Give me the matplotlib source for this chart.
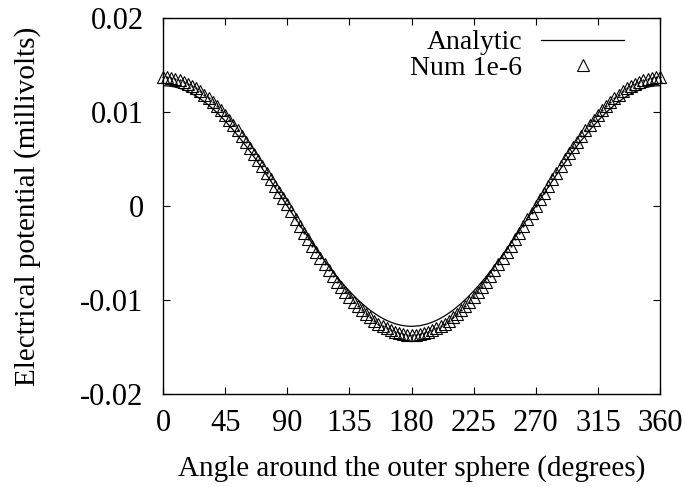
import matplotlib
matplotlib.use('Agg')
import matplotlib.pyplot as plt

plt.rcParams['font.family'] = ['Liberation Serif', 'DejaVu Serif']
plt.rcParams['mathtext.fontset'] = 'stix'

# angles in degrees, step 3
angle = list(range(0, 361, 3))

# analytic potential (millivolts)
analytic = [
    0.01280, 0.01278, 0.01273, 0.01264, 0.01252, 0.01236, 0.01217, 0.01195, 0.01169, 0.01140,
    0.01109, 0.01073, 0.01036, 0.00995, 0.00951, 0.00905, 0.00856, 0.00806, 0.00752, 0.00697,
    0.00640, 0.00581, 0.00521, 0.00459, 0.00396, 0.00331, 0.00266, 0.00200, 0.00134, 0.00067,
    0.00000,
    -0.00067, -0.00134, -0.00200, -0.00266, -0.00331, -0.00396, -0.00459, -0.00521, -0.00581, -0.00640,
    -0.00697, -0.00752, -0.00806, -0.00856, -0.00905, -0.00951, -0.00995, -0.01036, -0.01073, -0.01109,
    -0.01140, -0.01169, -0.01195, -0.01217, -0.01236, -0.01252, -0.01264, -0.01273, -0.01278, -0.01280,
    -0.01278, -0.01273, -0.01264, -0.01252, -0.01236, -0.01217, -0.01195, -0.01169, -0.01140, -0.01109,
    -0.01073, -0.01036, -0.00995, -0.00951, -0.00905, -0.00856, -0.00806, -0.00752, -0.00697, -0.00640,
    -0.00581, -0.00521, -0.00459, -0.00396, -0.00331, -0.00266, -0.00200, -0.00134, -0.00067, 0.00000,
    0.00067, 0.00134, 0.00200, 0.00266, 0.00331, 0.00396, 0.00459, 0.00521, 0.00581, 0.00640,
    0.00697, 0.00752, 0.00806, 0.00856, 0.00905, 0.00951, 0.00995, 0.01036, 0.01073, 0.01109,
    0.01140, 0.01169, 0.01195, 0.01217, 0.01236, 0.01252, 0.01264, 0.01273, 0.01278, 0.01280,
]

# numerical solution, tolerance 1e-6 (millivolts)
num_1e6 = [
    0.01370, 0.01368, 0.01362, 0.01353, 0.01340, 0.01323, 0.01303, 0.01279, 0.01252, 0.01221,
    0.01186, 0.01149, 0.01108, 0.01065, 0.01018, 0.00969, 0.00917, 0.00862, 0.00805, 0.00746,
    0.00685, 0.00622, 0.00557, 0.00491, 0.00423, 0.00355, 0.00285, 0.00214, 0.00150, 0.00085,
    0.00025,
    -0.00050, -0.00135, -0.00210, -0.00285, -0.00355, -0.00423, -0.00491, -0.00557, -0.00622, -0.00685,
    -0.00746, -0.00805, -0.00862, -0.00917, -0.00969, -0.01018, -0.01065, -0.01108, -0.01149, -0.01186,
    -0.01221, -0.01252, -0.01279, -0.01303, -0.01323, -0.01340, -0.01353, -0.01362, -0.01368, -0.01370,
    -0.01368, -0.01362, -0.01353, -0.01340, -0.01323, -0.01303, -0.01279, -0.01252, -0.01221, -0.01186,
    -0.01149, -0.01108, -0.01065, -0.01018, -0.00969, -0.00917, -0.00862, -0.00805, -0.00746, -0.00685,
    -0.00622, -0.00557, -0.00491, -0.00423, -0.00355, -0.00285, -0.00214, -0.00143, -0.00072, 0.00000,
    0.00072, 0.00143, 0.00214, 0.00285, 0.00355, 0.00430, 0.00498, 0.00562, 0.00625, 0.00685,
    0.00746, 0.00805, 0.00862, 0.00917, 0.00969, 0.01018, 0.01065, 0.01108, 0.01149, 0.01186,
    0.01221, 0.01252, 0.01279, 0.01303, 0.01323, 0.01340, 0.01353, 0.01362, 0.01368, 0.01370,
]

xticks = [0, 45, 90, 135, 180, 225, 270, 315, 360]
yticks = [-0.02, -0.01, 0, 0.01, 0.02]
ytick_labels = ['-0.02', '-0.01', '0', '0.01', '0.02']

fig = plt.figure(figsize=(6.85, 4.87), dpi=100)
ax = fig.add_axes([0.238, 0.191, 0.7255, 0.772])

ax.plot(angle, analytic, color='black', lw=0.9, label='Analytic')
ax.plot(angle, num_1e6, linestyle='none', marker='^', markersize=8,
        markerfacecolor='none', markeredgecolor='black', markeredgewidth=0.8,
        clip_on=False, label='Num 1e-6')
ax.plot(angle, num_1e6, linestyle='none', marker='.', markersize=1.2,
        color='black', clip_on=False)

ax.set_xlim(0, 360)
ax.set_ylim(-0.02, 0.02)
ax.set_xticks(xticks)
ax.set_yticks(yticks)
ax.set_yticklabels(ytick_labels)
ax.tick_params(direction='in', length=5, width=0.8, top=True, right=True,
               labelsize=22)
ax.tick_params(axis='x', pad=11)
ax.tick_params(axis='y', pad=14)
for s in ax.spines.values():
    s.set_linewidth(1.0)

ax.set_xlabel('Angle around the outer sphere (degrees)', fontsize=21, labelpad=12)
ax.set_ylabel('Electrical potential (millivolts)', fontsize=21, labelpad=28)

leg = ax.legend(loc='upper right', bbox_to_anchor=(0.928, 0.968), frameon=False,
                markerfirst=False, fontsize=20, handlelength=3.0,
                handletextpad=0.68, borderpad=0, borderaxespad=0,
                labelspacing=0.0)
try:
    for col in leg._legend_handle_box.get_children():
        col.align = 'right'
except Exception:
    pass

fig.savefig('out.png', dpi=100)
